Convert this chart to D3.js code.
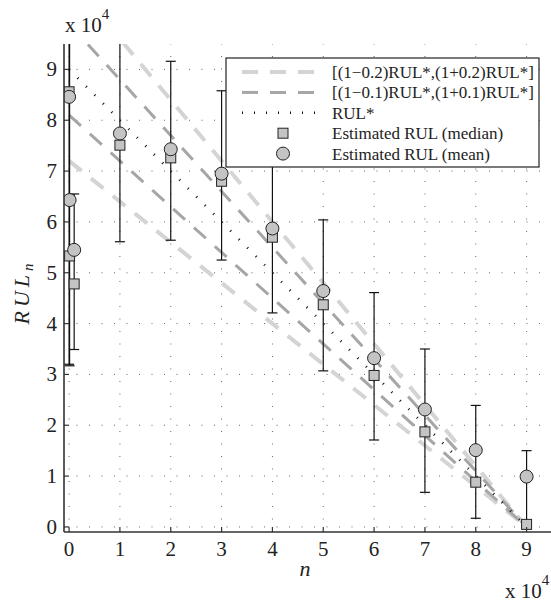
<!DOCTYPE html>
<html>
<head>
<meta charset="utf-8">
<script src="https://cdn.jsdelivr.net/npm/d3@7"></script>
<style>
  body { margin: 0; background: #fff; }
  svg text { font-family: "Liberation Serif", "Times New Roman", "DejaVu Serif", serif; fill: #222; }
</style>
</head>
<body>
<div id="chart"></div>
<script>
// estimates at each n
const nVals      = [0, 100, 1000, 10000, 20000, 30000, 40000, 50000, 60000, 70000, 80000, 90000];
const meanVals   = [84600, 64300, 54500, 77400, 74300, 69500, 58700, 46400, 33200, 23100, 15100, 9900];
const medianVals = [85600, 53300, 47800, 75100, 72600, 68000, 57000, 43700, 29800, 18700, 8800, 500];
const lowVals    = [32000, 31700, 34900, 56100, 56400, 52500, 42100, 30700, 17100, 6800, 1700, 0];
const highVals   = [105000, 100000, 65500, 102000, 91600, 85800, 75000, 60400, 46100, 35000, 23900, 15000];

// true RUL and bounds
const lineN   = [0, 90000];
const rulStar = [90000, 0];
const lo20 = [72000, 0], hi20 = [108000, 0];
const lo10 = [81000, 0], hi10 = [99000, 0];

const tickVals = [0, 10000, 20000, 30000, 40000, 50000, 60000, 70000, 80000, 90000];
const tickLabels = ["0", "1", "2", "3", "4", "5", "6", "7", "8", "9"];

const legendLabels = [
  "[(1\u22120.2)RUL*,(1+0.2)RUL*]",
  "[(1\u22120.1)RUL*,(1+0.1)RUL*]",
  "RUL*",
  "Estimated RUL (median)",
  "Estimated RUL (mean)"
];

const W = 551, H = 603;
const pLeft = 64, pRight = 552, pTop = 44, pBottom = 532;

const svg = d3.select("#chart").append("svg")
  .attr("width", W).attr("height", H)
  .style("font-family", "'Liberation Serif', 'Times New Roman', serif");
svg.append("rect").attr("width", W).attr("height", H).attr("fill", "#fff");

const x = d3.scaleLinear().domain([-1000, 95000]).range([pLeft, pRight]);
const y = d3.scaleLinear().domain([-1000, 95000]).range([pBottom, pTop]);

svg.append("clipPath").attr("id", "plotclip")
  .append("rect").attr("x", pLeft).attr("y", pTop)
  .attr("width", pRight - pLeft).attr("height", pBottom - pTop);

// grid
const grid = svg.append("g");
grid.selectAll(".gx").data(tickVals).enter().append("line")
  .attr("x1", d => x(d)).attr("x2", d => x(d))
  .attr("y1", pBottom).attr("y2", pTop)
  .attr("stroke", "#555").attr("stroke-width", 0.9)
  .attr("stroke-dasharray", "1 11.5");
grid.selectAll(".gy").data(tickVals).enter().append("line")
  .attr("y1", d => y(d)).attr("y2", d => y(d))
  .attr("x1", pLeft).attr("x2", pRight)
  .attr("stroke", "#555").attr("stroke-width", 0.9)
  .attr("stroke-dasharray", "1 11.5");

const plot = svg.append("g").attr("clip-path", "url(#plotclip)");

const line = d3.line().x(d => x(d[0])).y(d => y(d[1]));
const pairs = arr => lineN.map((n, i) => [n, arr[i]]);

function band(arr, color, w) {
  plot.append("path").datum(pairs(arr)).attr("d", line)
    .attr("fill", "none").attr("stroke", color).attr("stroke-width", w)
    .attr("stroke-dasharray", "16 12");
}
band(lo20, "#d4d4d4", 4);
band(hi20, "#d4d4d4", 4);
band(lo10, "#a6a6a6", 3);
band(hi10, "#a6a6a6", 3);

plot.append("path").datum(pairs(rulStar)).attr("d", line)
  .attr("fill", "none").attr("stroke", "#111").attr("stroke-width", 2.6)
  .attr("stroke-dasharray", "1 11");

// error bars
const pts = nVals.map((n, i) => ({n: n, mean: meanVals[i], med: medianVals[i], lo: lowVals[i], hi: highVals[i]}));
const eb = plot.append("g").attr("stroke", "#111").attr("stroke-width", 1.2);
pts.forEach(d => {
  eb.append("line").attr("x1", x(d.n)).attr("x2", x(d.n))
    .attr("y1", y(d.lo)).attr("y2", y(d.hi));
  [d.lo, d.hi].forEach(v => {
    eb.append("line").attr("x1", x(d.n) - 5).attr("x2", x(d.n) + 5)
      .attr("y1", y(v)).attr("y2", y(v));
  });
});

// markers
plot.selectAll(".sq").data(pts).enter().append("rect")
  .attr("x", d => x(d.n) - 5).attr("y", d => y(d.med) - 5)
  .attr("width", 10).attr("height", 10)
  .attr("fill", "#c4c4c4").attr("stroke", "#222").attr("stroke-width", 1);
plot.selectAll(".ci").data(pts).enter().append("circle")
  .attr("cx", d => x(d.n)).attr("cy", d => y(d.mean)).attr("r", 6.5)
  .attr("fill", "#c4c4c4").attr("stroke", "#222").attr("stroke-width", 1);

// axes
const ax = svg.append("g").attr("stroke", "#333");
ax.append("line").attr("x1", pLeft).attr("x2", pLeft).attr("y1", pTop).attr("y2", pBottom).attr("stroke-width", 1.6);
ax.append("line").attr("x1", pLeft).attr("x2", pRight).attr("y1", pBottom).attr("y2", pBottom).attr("stroke-width", 1.6);
tickVals.forEach(t => {
  ax.append("line").attr("x1", x(t)).attr("x2", x(t)).attr("y1", pBottom).attr("y2", pBottom - 5).attr("stroke-width", 1.2);
  ax.append("line").attr("x1", pLeft).attr("x2", pLeft + 5).attr("y1", y(t)).attr("y2", y(t)).attr("stroke-width", 1.2);
});

svg.selectAll(".xl").data(tickVals).enter().append("text")
  .attr("x", d => x(d)).attr("y", 556)
  .attr("text-anchor", "middle").style("font-size", "21px")
  .text((d, i) => tickLabels[i]);
svg.selectAll(".yl").data(tickVals).enter().append("text")
  .attr("x", 57).attr("y", d => y(d) + 7)
  .attr("text-anchor", "end").style("font-size", "21px")
  .text((d, i) => tickLabels[i]);

// exponent labels
const e1 = svg.append("text").attr("x", 65).attr("y", 32).style("font-size", "21px");
e1.append("tspan").text("x 10");
e1.append("tspan").attr("dy", -13).style("font-size", "15px").text("4");
const e2 = svg.append("text").attr("x", 505).attr("y", 598).style("font-size", "21px");
e2.append("tspan").text("x 10");
e2.append("tspan").attr("dy", -13).style("font-size", "15px").text("4");

// axis titles
svg.append("text").attr("x", 305).attr("y", 576).attr("text-anchor", "middle")
  .style("font-size", "22px").style("font-style", "italic").text("n");
const yt = svg.append("text").attr("transform", "translate(29,292) rotate(-90)")
  .attr("text-anchor", "middle").style("font-size", "22px").style("font-style", "italic")
  .style("letter-spacing", "4px");
yt.append("tspan").text("RUL");
yt.append("tspan").attr("dy", 4).style("font-size", "15px").text("n");

// legend
const lg = svg.append("g");
lg.append("rect").attr("x", 226).attr("y", 58).attr("width", 313).attr("height", 109)
  .attr("fill", "#fff").attr("stroke", "#222").attr("stroke-width", 1.2);
const rowY = i => 72 + i * 20.4;
const styles = [
  {c: "#d4d4d4", w: 4, d: "16 12"},
  {c: "#a6a6a6", w: 3, d: "16 12"},
  {c: "#111", w: 2.6, d: "1 11"}
];
styles.forEach((s, i) => {
  lg.append("line").attr("x1", 242).attr("x2", 321).attr("y1", rowY(i)).attr("y2", rowY(i))
    .attr("stroke", s.c).attr("stroke-width", s.w).attr("stroke-dasharray", s.d);
});
lg.append("rect").attr("x", 278).attr("y", rowY(3) - 5).attr("width", 10).attr("height", 10)
  .attr("fill", "#c4c4c4").attr("stroke", "#222");
lg.append("circle").attr("cx", 283).attr("cy", rowY(4)).attr("r", 6.5)
  .attr("fill", "#c4c4c4").attr("stroke", "#222");
lg.selectAll(".lt").data(legendLabels).enter().append("text")
  .attr("x", 332).attr("y", (d, i) => rowY(i) + 6)
  .style("font-size", "17px").text(d => d);
</script>
</body>
</html>
